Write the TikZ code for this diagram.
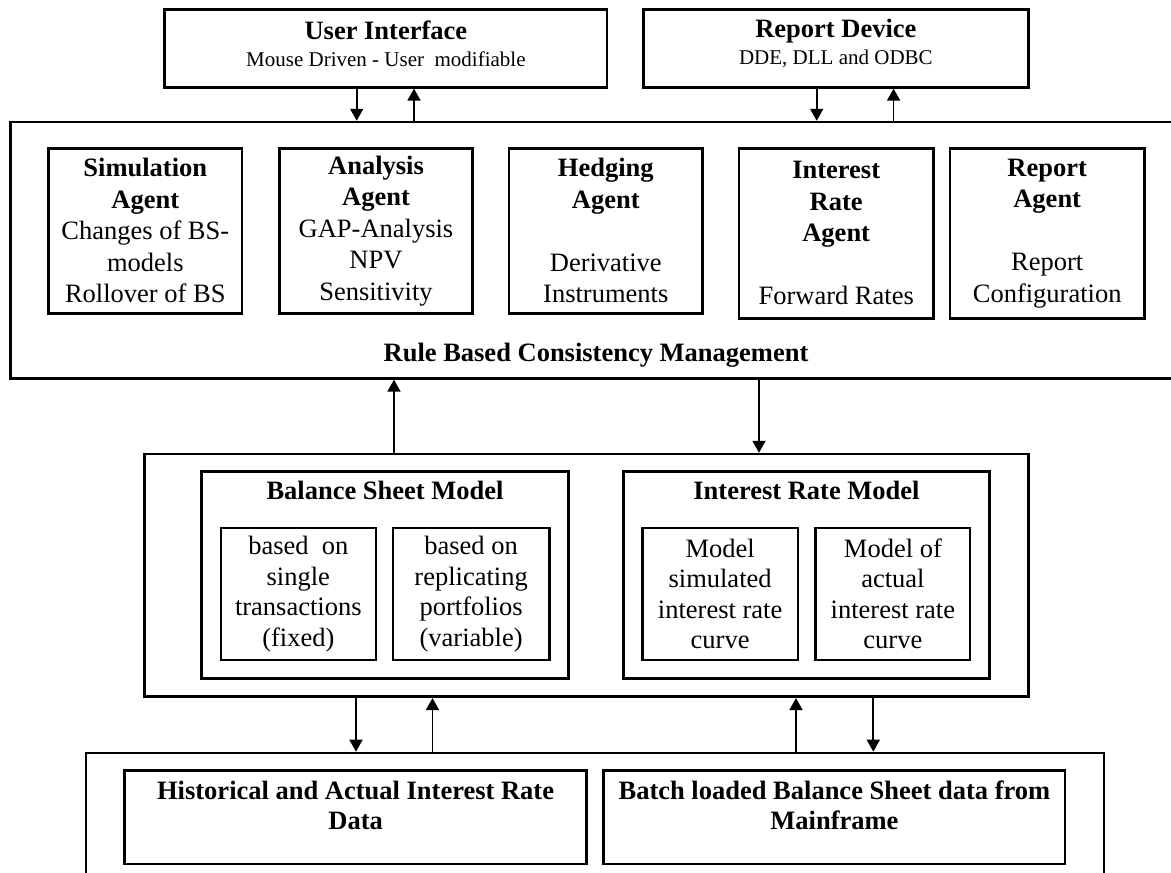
\documentclass[tikz,border=0pt]{standalone}
\usepackage{fontspec}
\setmainfont{Liberation Serif}
\usetikzlibrary{arrows.meta}

\newcommand\bt[1]{\textbf{#1}}

\begin{document}
\begin{tikzpicture}[
      x=1pt,y=-1pt,
      box/.style={draw,line width=2.6pt,inner sep=0pt,align=center,
        font=\fontsize{26.5}{31.5}\selectfont},
      flow/.style={line width=1.7pt,-{Triangle[width=13pt,length=12pt]}},
      head/.style={align=center,font=\fontsize{26.5}{30}\selectfont\bfseries}
    ]
    \useasboundingbox (0,0) rectangle (1171,873);
    \clip (0,0) rectangle (1171,873);
    % top row
    \node [box,minimum width=442.5,minimum height=78] (ui) at (385.9,48.3) {};
    \node [align=center,font=\fontsize{21}{27}\selectfont] (uit) at (385.9,43.5)
      {\fontsize{26.5}{27}\selectfont\bt{User Interface}\\Mouse Driven - User~ modifiable};
    \node [box,minimum width=385.2,minimum height=78] (rd) at (835.9,48.3) {};
    \node [align=center,font=\fontsize{21}{27}\selectfont] (rdt) at (835.9,43.5)
      {\fontsize{26.5}{27}\selectfont\bt{Report Device}\\DDE, DLL and ODBC};
    % agents
    \node [box,minimum width=1180,minimum height=256.3] (agents) at (600.3,250.2) {};
    \node [box,minimum width=193.3,minimum height=165] (sim) at (145.3,230.8)
      {\bt{Simulation}\\\bt{Agent}\\Changes of BS-\\models\\Rollover of BS};
    \node [box,minimum width=193.2,minimum height=165] (ana) at (376,230.8)
      {\bt{Analysis}\\\bt{Agent}\\GAP-Analysis\\NPV\\Sensitivity};
    \node [box,minimum width=193.5,minimum height=165] (hedge) at (605.8,230.8)
      {\bt{Hedging}\\\bt{Agent}\\[31.5pt]Derivative\\Instruments};
    \node [box,minimum width=194.1,minimum height=170] (irag) at (836.2,233.3)
      {\bt{Interest}\\\bt{Rate}\\\bt{Agent}\\[31.5pt]Forward Rates};
    \node [box,minimum width=194.2,minimum height=170] (repag) at (1047.2,233.3)
      {\bt{Report}\\\bt{Agent}\\[31.5pt]Report\\Configuration};
    \node [head] (rule) at (596,355) {Rule Based Consistency Management};
    % models
    \node [box,minimum width=884.2,minimum height=242.7] (mid) at (586.4,575.4) {};
    \node [box,minimum width=366.6,minimum height=206.6] (bsm) at (385,575) {};
    \node [head] (bsmt) at (385,490) {Balance Sheet Model};
    \node [box,minimum width=155,minimum height=131.7,
      font=\fontsize{26.5}{30.5}\selectfont] (single) at (298.3,594)
      {based~ on\\single\\transactions\\(fixed)};
    \node [box,minimum width=156.2,minimum height=131.7,
      font=\fontsize{26.5}{30.5}\selectfont] (repl) at (471.1,594)
      {based on\\replicating\\portfolios\\(variable)};
    \node [box,minimum width=366.4,minimum height=206.6] (irm) at (806.5,575) {};
    \node [head] (irmt) at (806.5,490) {Interest Rate Model};
    \node [box,minimum width=155.7,minimum height=131.7,
      font=\fontsize{26.5}{30.5}\selectfont] (simc) at (720.1,594)
      {Model\\simulated\\interest rate\\curve};
    \node [box,minimum width=154.5,minimum height=131.7,
      font=\fontsize{26.5}{30.5}\selectfont] (actc) at (892.9,594)
      {Model of\\actual\\interest rate\\curve};
    % data
    \node [box,minimum width=1017.8,minimum height=200] (data) at (595,853) {};
    \node [box,minimum width=462.3,minimum height=93.3] (hist) at (355.6,817.4) {};
    \node [head] (histt) at (355.6,805) {Historical and Actual Interest Rate\\Data};
    \node [box,minimum width=461.4,minimum height=93.3] (batch) at (834.4,817.4) {};
    \node [head] (batcht) at (834.4,805) {Batch loaded Balance Sheet data from\\Mainframe};
    % connectors
    \draw [flow] ([xshift=-29.2]ui.south) -- ([xshift=-29.2]ui.south |- agents.north);
    \draw [flow] ([xshift=28.1]ui.south |- agents.north) -- ([xshift=28.1]ui.south);
    \draw [flow] ([xshift=-19.2]rd.south) -- ([xshift=-19.2]rd.south |- agents.north);
    \draw [flow] ([xshift=57.7]rd.south |- agents.north) -- ([xshift=57.7]rd.south);
    \draw [flow] ([xshift=-192.4]mid.north) -- ([xshift=-192.4]mid.north |- agents.south);
    \draw [flow] ([xshift=172.6]mid.north |- agents.south) -- ([xshift=172.6]mid.north);
    \draw [flow] ([xshift=-230.4]mid.south) -- ([xshift=-230.4]mid.south |- data.north);
    \draw [flow] ([xshift=-153.9]mid.south |- data.north) -- ([xshift=-153.9]mid.south);
    \draw [flow] ([xshift=209.6]mid.south |- data.north) -- ([xshift=209.6]mid.south);
    \draw [flow] ([xshift=286.9]mid.south) -- ([xshift=286.9]mid.south |- data.north);
  \end{tikzpicture}
\end{document}
